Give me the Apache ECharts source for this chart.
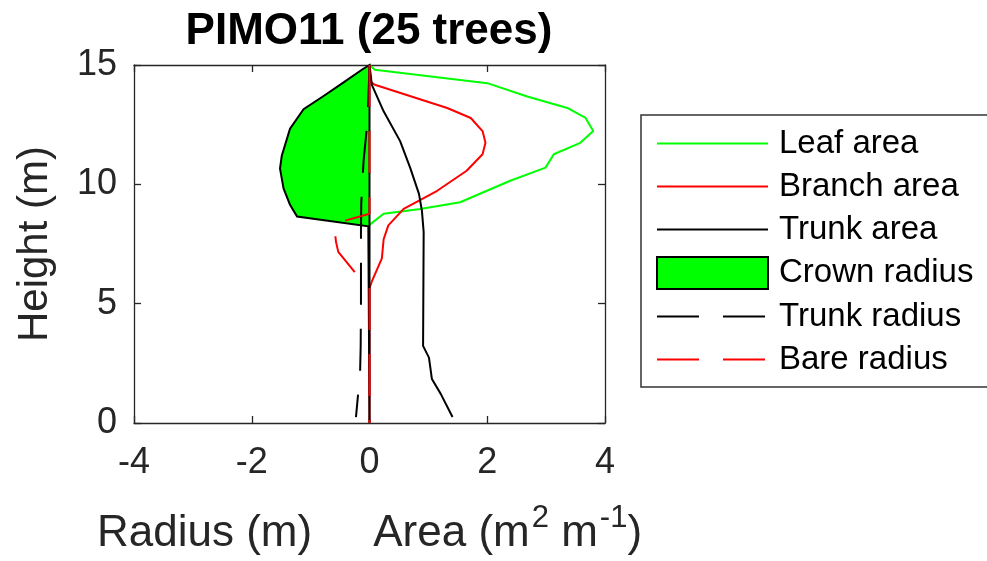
<!DOCTYPE html>
<html>
<head>
<meta charset="utf-8">
<script src="https://cdn.jsdelivr.net/npm/echarts@6/dist/echarts.min.js"></script>
<style>
  html, body { margin: 0; padding: 0; background: #fff; }
  #chart { width: 987px; height: 561px; }
</style>
</head>
<body>
<div id="chart"></div>
<script>
// height (m) and matching x values for each profile
var leafX = [0, 0.09, 2.0, 2.68, 3.36, 3.67, 3.80, 3.58, 3.13, 2.99, 2.39, 1.54, 0.86, 0.24, 0];
var leafH = [15, 14.8, 14.24, 13.68, 13.2, 12.78, 12.23, 11.74, 11.26, 10.7, 10.15, 9.25, 8.97, 8.77, 8.3];

var branchX = [0, 0.02, 0.09, 1.32, 1.72, 1.92, 1.97, 1.92, 1.65, 1.15, 0.58, 0.32, 0.24, 0.21, 0.04, 0, 0];
var branchH = [15, 14.3, 14.17, 13.2, 12.78, 12.23, 11.74, 11.26, 10.57, 9.73, 8.97, 8.28, 7.7, 6.9, 5.93, 5.65, 0];

var trunkX = [0, 0.04, 0.24, 0.52, 0.69, 0.84, 0.89, 0.92, 0.91, 1.01, 1.06, 1.21, 1.41];
var trunkH = [15, 14.17, 13.06, 11.81, 10.7, 9.6, 8.9, 8.0, 3.23, 2.74, 1.84, 1.22, 0.25];

var crownX = [0, -0.13, -0.44, -0.78, -1.12, -1.35, -1.49, -1.52, -1.46, -1.35, -1.23, -0.02, 0];
var crownH = [15, 14.8, 14.27, 13.7, 13.15, 12.33, 11.2, 10.66, 9.83, 9.14, 8.65, 8.24, 0];

var trunkRX = [0, -0.02, -0.04, -0.10, -0.14, -0.145, -0.145, -0.15, -0.16, -0.23];
var trunkRH = [15, 13.5, 12.5, 11, 9.2, 8, 5, 3.2, 2.1, 0.25];

var bareX = [0, 0, -0.6, -0.57, -0.53, -0.19, 0, 0];
var bareH = [15, 8.77, 8.35, 7.6, 7.17, 6.14, 5.9, 0];

var xTicks = [-4, -2, 0, 2, 4];
var yTicks = [0, 5, 10, 15];

function pairs(xs, hs) {
  var out = [];
  for (var i = 0; i < xs.length; i++) out.push([xs[i], hs[i]]);
  return out;
}

var txt = '#262626';
var font = 'Liberation Sans';

var myChart = echarts.init(document.getElementById('chart'));

var axisBase = {
  type: 'value',
  axisLine: { show: true, onZero: false, lineStyle: { color: txt, width: 1.3 } },
  axisTick: { show: true, inside: true, length: 7, lineStyle: { color: txt, width: 1.3 } },
  splitLine: { show: false }
};

var noDot = { opacity: 0 };

var option = {
  backgroundColor: '#fff',
  animation: false,
  title: {
    text: 'PIMO11 (25 trees)',
    left: 364,
    top: 5,
    textAlign: 'center',
    textStyle: { fontFamily: font, fontSize: 44, fontWeight: 'bold', color: '#000' }
  },
  grid: { left: 134, right: 382, top: 65, bottom: 135 },
  legend: {
    orient: 'vertical',
    left: 641,
    top: 115,
    padding: [12, 60, 11, 15],
    itemWidth: 111,
    itemHeight: 32,
    itemGap: 10,
    selectedMode: false,
    borderColor: '#333',
    borderWidth: 1.5,
    textStyle: { fontFamily: font, fontSize: 33, color: '#000', padding: [0, 0, 0, 6] },
    data: [
      { name: 'Leaf area', itemStyle: noDot },
      { name: 'Branch area', itemStyle: noDot },
      { name: 'Trunk area', itemStyle: noDot },
      { name: 'Crown radius', icon: 'rect', itemStyle: { color: '#00ff00', borderColor: '#000', borderWidth: 2 } },
      { name: 'Trunk radius', itemStyle: noDot },
      { name: 'Bare radius', itemStyle: noDot }
    ]
  },
  xAxis: [
    Object.assign({}, axisBase, {
      min: -4, max: 4, interval: 2,
      position: 'bottom',
      axisLabel: { fontFamily: font, fontSize: 36, color: txt, margin: 22 },
      name: '{t|Radius (m)     Area (m}{s|2}{t| m}{s|-1}{t|)}',
      nameLocation: 'middle',
      nameGap: 83,
      nameTextStyle: {
        color: txt,
        rich: {
          t: { fontFamily: font, fontSize: 44, color: txt, verticalAlign: 'bottom', lineHeight: 50 },
          s: { fontFamily: font, fontSize: 31, color: txt, verticalAlign: 'bottom', padding: [0, 0, 22, 2], lineHeight: 30 }
        }
      }
    }),
    Object.assign({}, axisBase, {
      min: -4, max: 4, interval: 2,
      position: 'top',
      axisLabel: { show: false }
    })
  ],
  yAxis: [
    Object.assign({}, axisBase, {
      min: 0, max: 15, interval: 5,
      position: 'left',
      axisLabel: { fontFamily: font, fontSize: 36, color: txt, margin: 17 },
      name: 'Height (m)',
      nameLocation: 'middle',
      nameGap: 78,
      nameTextStyle: { fontFamily: font, fontSize: 42, color: txt }
    }),
    Object.assign({}, axisBase, {
      min: 0, max: 15, interval: 5,
      position: 'right',
      axisLabel: { show: false }
    })
  ],
  series: [
    {
      name: 'Leaf area', type: 'line', symbol: 'none', data: pairs(leafX, leafH),
      lineStyle: { color: '#00ff00', width: 2 }, itemStyle: { color: '#00ff00' }, z: 2
    },
    {
      name: 'Branch area', type: 'line', symbol: 'none', data: pairs(branchX, branchH),
      lineStyle: { color: '#ff0000', width: 2 }, itemStyle: { color: '#ff0000' }, z: 3
    },
    {
      name: 'Trunk area', type: 'line', symbol: 'none', data: pairs(trunkX, trunkH),
      lineStyle: { color: '#000', width: 2 }, itemStyle: { color: '#000' }, z: 4
    },
    {
      name: 'Crown radius', type: 'custom', z: 5,
      itemStyle: { color: '#00ff00', borderColor: '#000', borderWidth: 2 },
      data: [[0, 0]],
      renderItem: function (params, api) {
        var pts = [];
        for (var i = 0; i < crownX.length; i++) pts.push(api.coord([crownX[i], crownH[i]]));
        return {
          type: 'polygon',
          shape: { points: pts },
          style: { fill: '#00ff00', stroke: '#000', lineWidth: 2 }
        };
      }
    },
    {
      name: 'Trunk radius', type: 'line', symbol: 'none', data: pairs(trunkRX, trunkRH),
      lineStyle: { color: '#000', width: 2, type: [42, 24] }, itemStyle: { color: '#000' }, z: 6
    },
    {
      name: 'Bare radius', type: 'line', symbol: 'none', data: pairs(bareX, bareH),
      lineStyle: { color: '#ff0000', width: 2, type: [42, 24] }, itemStyle: { color: '#ff0000' }, z: 7
    }
  ]
};

myChart.setOption(option);
window.onresize = function () {
  myChart.resize();
};
</script>
</body>
</html>
